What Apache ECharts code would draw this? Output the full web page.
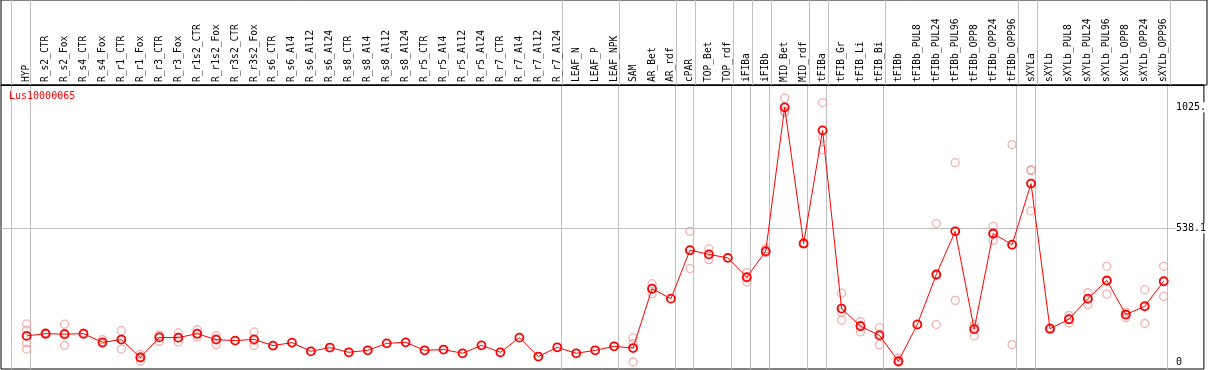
<!DOCTYPE html>
<html><head><meta charset="utf-8">
<script src="https://cdn.jsdelivr.net/npm/echarts@6/dist/echarts.min.js"></script>
<style>html,body{margin:0;padding:0;background:#fff}#c{width:1209px;height:370px}</style>
</head><body><div id="c"></div>
<script>
const geneName = 'Lus10000065';
const categories = ['HYP','R_s2_CTR','R_s2_Fox','R_s4_CTR','R_s4_Fox','R_r1_CTR','R_r1_Fox','R_r3_CTR','R_r3_Fox','R_r1s2_CTR','R_r1s2_Fox','R_r3s2_CTR','R_r3s2_Fox','R_s6_CTR','R_s6_Al4','R_s6_Al12','R_s6_Al24','R_s8_CTR','R_s8_Al4','R_s8_Al12','R_s8_Al24','R_r5_CTR','R_r5_Al4','R_r5_Al12','R_r5_Al24','R_r7_CTR','R_r7_Al4','R_r7_Al12','R_r7_Al24','LEAF_N','LEAF_P','LEAF_NPK','SAM','AR_Bet','AR_rdf','cPAR','TOP_Bet','TOP_rdf','iFIBa','iFIBb','MID_Bet','MID_rdf','tFIBa','tFIB_Gr','tFIB_Li','tFIB_Bi','tFIBb','tFIBb_PUL8','tFIBb_PUL24','tFIBb_PUL96','tFIBb_OPP8','tFIBb_OPP24','tFIBb_OPP96','sXYLa','sXYLb','sXYLb_PUL8','sXYLb_PUL24','sXYLb_PUL96','sXYLb_OPP8','sXYLb_OPP24','sXYLb_OPP96'];
const meanValues = [105,114,112,114,79,90,18,99,98,114,90,86,91,66,78,43,58,39,47,75,79,47,50,35,67,39,98,22,59,35,47,63,56,295,255,450,433,419,341,446,1025,477,932,215,144,107,3,151,352,526,132,517,472,718,134,172,255,328,191,224,325];
const rep1 = [153,118,152,116,90,126,31,108,117,130,106,null,121,null,null,null,null,null,null,null,null,null,null,null,null,null,null,null,null,null,null,null,97,315,null,526,455,null,360,456,1062,480,1044,277,163,138,16,null,557,802,151,546,875,774,137,187,279,385,201,291,385];
const rep2 = [128,111,116,112,74,92,20,106,97,112,94,null,86,null,null,null,null,null,null,null,null,null,null,null,null,null,null,null,null,null,null,null,74,295,null,449,433,null,341,441,1009,474,903,200,148,113,0,null,348,527,140,515,472,770,131,172,255,327,193,227,325];
const rep3 = [77,null,67,null,null,52,3,83,81,101,70,null,67,null,null,null,null,null,null,null,null,null,null,null,null,null,null,null,null,null,null,null,0,275,null,376,412,null,322,440,1004,null,855,168,121,70,0,null,151,248,105,490,70,608,null,157,231,273,179,155,264];
const rep4 = [52,null,null,null,null,null,null,null,null,null,null,null,null,null,null,null,null,null,null,null,null,null,null,null,null,null,null,null,null,null,null,null,null,null,null,null,null,null,null,null,null,null,null,null,null,null,null,null,null,null,null,null,null,null,null,null,null,null,null,null,null];
const groupSizes = [1,28,3,3,1,2,1,1,2,1,3,7,1,7];
const yTickValues = [0, 538.1, 1025];
const yTickLabels = ['0', '538.1', '1025.'];
const yGridValues = [538.1];

const FONT = 'DejaVu Sans Mono';
const boundaries = [-0.8];
let acc = -1;
groupSizes.forEach(s => { acc += s; boundaries.push(acc + 0.2); });
const xMin = -1.3526, xMax = 62.121;
const idx = categories.map((c, i) => i);

const repData = [];
[rep1, rep2, rep3, rep4].forEach(arr => arr.forEach((v, i) => { if (v !== null) repData.push([i, v]); }));
const meanData = meanValues.map((v, i) => [i, v]);

const chart = echarts.init(document.getElementById('c'), null, {renderer: 'canvas'});
chart.setOption({
  animation: false,
  backgroundColor: '#fff',
  title: {text: geneName, left: 9, top: 91, padding: 0,
    textStyle: {color: '#ff0000', fontSize: 10, fontWeight: 'normal', fontFamily: FONT}},
  grid: [
    {left: 1, top: 85, width: 1206, height: 284, show: true, borderColor: '#000', borderWidth: 1, backgroundColor: 'transparent'},
    {left: 1, top: 0, width: 1206, height: 85, show: true, borderColor: '#000', borderWidth: 1, backgroundColor: 'transparent'}
  ],
  xAxis: [
    {type: 'value', gridIndex: 0, min: xMin, max: xMax, position: 'top',
      axisLine: {show: true, onZero: false, lineStyle: {color: '#000'}},
      axisTick: {show: false, customValues: boundaries},
      splitLine: {show: true, lineStyle: {color: '#c0c0c0', width: 1}},
      axisLabel: {customValues: idx, formatter: v => categories[Math.round(v)], rotate: -90, margin: 3,
        color: '#000', fontSize: 9.6, fontFamily: FONT, hideOverlap: false, padding: [0, 0, 5, 0]}},
    {type: 'value', gridIndex: 1, min: xMin, max: xMax,
      axisLine: {show: false, onZero: false}, axisLabel: {show: false},
      axisTick: {show: false, customValues: boundaries},
      splitLine: {show: true, lineStyle: {color: '#c0c0c0', width: 1}}}
  ],
  yAxis: [
    {type: 'value', gridIndex: 0, min: -28.2, max: 1114.7, position: 'right', offset: -32,
      axisLine: {show: false, onZero: false},
      axisTick: {show: false, customValues: yGridValues},
      splitLine: {show: true, lineStyle: {color: '#c0c0c0', width: 1}},
      axisLabel: {customValues: yTickValues, formatter: v => yTickLabels[yTickValues.indexOf(v)], margin: 4,
        color: '#000', fontSize: 10, fontFamily: FONT, backgroundColor: '#fff'}},
    {type: 'value', gridIndex: 1, min: 0, max: 1, show: false}
  ],
  series: [
    {type: 'scatter', xAxisIndex: 0, yAxisIndex: 0, data: repData, symbol: 'circle', symbolSize: 8, z: 2,
      itemStyle: {color: 'rgba(0,0,0,0)', borderColor: '#f09c9c', borderWidth: 1.3}},
    {type: 'line', xAxisIndex: 0, yAxisIndex: 0, data: meanData, symbol: 'circle', symbolSize: 8, z: 3,
      lineStyle: {color: '#ff0000', width: 1},
      itemStyle: {color: 'rgba(0,0,0,0)', borderColor: '#ff0000', borderWidth: 1.8}}
  ]
});
</script></body></html>
